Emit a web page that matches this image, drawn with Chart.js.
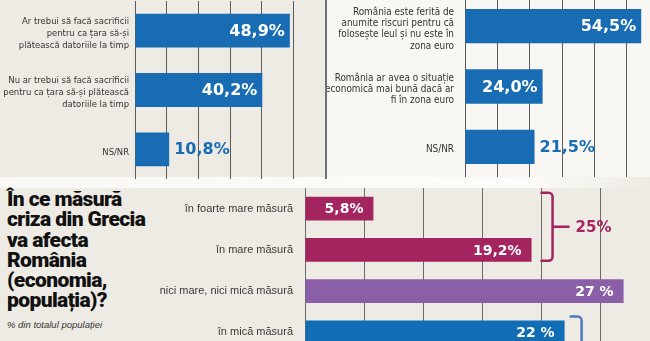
<!DOCTYPE html>
<html lang="ro">
<head>
  <meta charset="UTF-8">
  <title>Criza din Grecia - sondaj</title>
  <script src="https://cdn.jsdelivr.net/npm/chart.js"></script>
  <style>
    html, body { margin: 0; padding: 0; }
    body { width: 650px; height: 341px; overflow: hidden; position: relative; background: #eeebe4; font-family: "Liberation Sans", Arial, sans-serif; }
    .abs { position: absolute; }
    #panelRight { left: 326px; top: 0; width: 324px; height: 178px; background: #f8f7f3; }
    #sep { left: 325px; top: 0; width: 2px; height: 179px; background: #707070; }
    #band { left: 0; top: 177px; width: 650px; height: 11px; background: linear-gradient(to right, #f9f8f5 0%, #fdfcfa 80%, #eeebe4 100%); }
    canvas { position: absolute; }
    #title { left: 7px; top: 189px; font-family: Roboto, "Liberation Sans", sans-serif; font-weight: 900; font-size: 21px; line-height: 20.3px; letter-spacing: -0.6px; color: #111; }
    #sub { left: 7px; top: 319px; font-style: italic; font-size: 9.5px; line-height: 12px; color: #333; }
  </style>
</head>
<body>
  <div id="panelRight" class="abs"></div>
  <div id="band" class="abs"></div>
  <canvas id="chartSacrificii" width="325" height="180" style="left:0;top:0"></canvas>
  <canvas id="chartEuro" width="333" height="182" style="left:326px;top:-4px"></canvas>
  <div id="sep" class="abs"></div>
  <canvas id="chartGrecia" width="509" height="165" style="left:150px;top:188px"></canvas>
  <div id="title" class="abs">În ce măsură<br>criza din Grecia<br>va afecta<br>România<br>(economia,<br>populația)?</div>
  <div id="sub" class="abs">% din totalul populației</div>

  <script>
    // --- data ---
    const sacrificiiLabels = [
      ['Ar trebui să facă sacrificii', 'pentru ca țara să-și', 'plătească datoriile la timp'],
      ['Nu ar trebui să facă sacrificii', 'pentru ca țara să-și plătească', 'datoriile la timp'],
      'NS/NR'
    ];
    const sacrificiiValues = [48.9, 40.2, 10.8];
    const sacrificiiText = ['48,9%', '40,2%', '10,8%'];

    const euroLabels = [
      ['România este ferită de', 'anumite riscuri pentru că', 'folosește leul și nu este în', 'zona euro'],
      ['România ar avea o situație', 'economică mai bună dacă ar', 'fi în zona euro'],
      'NS/NR'
    ];
    const euroValues = [54.5, 24.0, 21.5];
    const euroText = ['54,5%', '24,0%', '21,5%'];

    const greciaLabels = ['în foarte mare măsură', 'în mare măsură', 'nici mare, nici mică măsură', 'în mică măsură'];
    const greciaValues = [5.8, 19.2, 27, 22];
    const greciaText = ['5,8%', '19,2%', '27 %', '22 %'];
    const greciaGroupTotal = '25%';

    const BLUE = '#176cb3';
    const MAGENTA = '#a3245f';
    const PURPLE = '#8a5fa8';
    const BLUE2 = '#116db4';
    const greciaColors = [MAGENTA, MAGENTA, PURPLE, BLUE2];

    const LABEL_FONT = '"DejaVu Sans Condensed", "Liberation Sans Narrow", "Liberation Sans"';

    // keep the category axis from shrinking the plot area
    function fixAxis(width) {
      return s => {
        s.width = width;
        s.paddingTop = 0;
        s.paddingBottom = 0;
      };
    }

    // values at the end of each bar: white inside, or coloured outside
    function valueLabels(texts, font, insideMin, outColor, pad) {
      return {
        id: 'valueLabels',
        afterDatasetsDraw(chart) {
          const ctx = chart.ctx;
          const meta = chart.getDatasetMeta(0);
          const data = chart.data.datasets[0].data;
          ctx.save();
          ctx.font = font;
          ctx.textBaseline = 'middle';
          meta.data.forEach((bar, i) => {
            if (data[i] >= insideMin) {
              ctx.fillStyle = '#fff';
              ctx.textAlign = 'right';
              ctx.fillText(texts[i], bar.x - pad, bar.y + 1);
            } else {
              ctx.fillStyle = outColor;
              ctx.textAlign = 'left';
              ctx.fillText(texts[i], bar.x + pad, bar.y + 1);
            }
          });
          ctx.restore();
        }
      };
    }

    // brace next to a group of bars
    const braces = {
      id: 'braces',
      afterDatasetsDraw(chart) {
        const ctx = chart.ctx;
        const meta = chart.getDatasetMeta(0);
        const xs = chart.scales.x;
        const groups = [
          { from: 0, to: 1, color: MAGENTA, text: greciaGroupTotal },
          { from: 3, to: null, color: '#4a7bbd', text: '' }
        ];
        groups.forEach(g => {
          const last = g.to === null ? g.from : g.to;
          let maxV = 0;
          for (let i = g.from; i <= last; i++) maxV = Math.max(maxV, greciaValues[i]);
          const xl = xs.getPixelForValue(maxV) + (g.to === null ? 6 : 10);
          const xr = xl + 11;
          const b0 = meta.data[g.from];
          const top = b0.y - b0.height / 2 - 4;
          const bottom = g.to === null ? chart.height + 20 : meta.data[g.to].y + meta.data[g.to].height / 2 - 1;
          const mid = (top + bottom) / 2;
          ctx.save();
          ctx.strokeStyle = g.color;
          ctx.lineWidth = 2.5;
          ctx.lineJoin = 'round';
          ctx.lineCap = 'round';
          ctx.beginPath();
          ctx.moveTo(xl, top);
          ctx.arcTo(xr, top, xr, top + 6, 4);
          ctx.lineTo(xr, bottom - 4);
          ctx.arcTo(xr, bottom, xl, bottom, 4);
          ctx.lineTo(xl, bottom);
          if (g.to !== null) {
            ctx.moveTo(xr, mid);
            ctx.lineTo(xr + 16, mid);
          }
          ctx.stroke();
          if (g.text) {
            ctx.fillStyle = g.color;
            ctx.font = 'bold 15px "DejaVu Sans"';
            ctx.textAlign = 'left';
            ctx.textBaseline = 'middle';
            ctx.fillText(g.text, xr + 23, mid + 1);
          }
          ctx.restore();
        });
      }
    };

    function topChart(id, labels, values, texts, axisWidth, tickPad, padTop, fontSize, lineHeight) {
      return new Chart(document.getElementById(id), {
        type: 'bar',
        data: {
          labels: labels,
          datasets: [{ data: values, backgroundColor: BLUE, barPercentage: 0.57, categoryPercentage: 1 }]
        },
        options: {
          indexAxis: 'y',
          responsive: false,
          animation: false,
          devicePixelRatio: 1,
          layout: { padding: { top: padTop, bottom: 1, left: 0, right: 0 } },
          plugins: { legend: { display: false }, tooltip: { enabled: false } },
          scales: {
            x: {
              min: 0, max: 60,
              ticks: { display: false, stepSize: 10 },
              grid: { color: '#5b5b5b', lineWidth: 1, drawTicks: false },
              border: { display: false }
            },
            y: {
              afterFit: fixAxis(axisWidth),
              ticks: { color: '#333', padding: tickPad, labelOffset: 3, font: { family: LABEL_FONT, size: fontSize, lineHeight: lineHeight } },
              grid: { display: false, drawTicks: false },
              border: { display: false }
            }
          }
        },
        plugins: [valueLabels(texts, 'bold 16px "DejaVu Sans"', 24, BLUE, 5)]
      });
    }

    topChart('chartSacrificii', sacrificiiLabels, sacrificiiValues, sacrificiiText, 135, 6, 1, 9.4, 1.28);
    topChart('chartEuro', euroLabels, euroValues, euroText, 139, 11, 0, 9.9, 1.14);

    new Chart(document.getElementById('chartGrecia'), {
      type: 'bar',
      data: {
        labels: greciaLabels,
        datasets: [{ data: greciaValues, backgroundColor: greciaColors, barPercentage: 0.58, categoryPercentage: 1 }]
      },
      options: {
        indexAxis: 'y',
        responsive: false,
        animation: false,
        devicePixelRatio: 1,
        layout: { padding: 0 },
        plugins: { legend: { display: false }, tooltip: { enabled: false } },
        scales: {
          x: {
            min: 0, max: 30,
            ticks: { display: false, stepSize: 5 },
            grid: { color: '#6a6a6a', lineWidth: 1, drawTicks: false },
            border: { display: false }
          },
          y: {
            afterFit: fixAxis(155),
            ticks: { color: '#3a3a3a', padding: 12, font: { family: '"Liberation Sans"', size: 11 } },
            grid: { display: false, drawTicks: false },
            border: { display: false }
          }
        }
      },
      plugins: [valueLabels(greciaText, 'bold 14px "DejaVu Sans"', 0, '#fff', 10), braces]
    });
  </script>
</body>
</html>
